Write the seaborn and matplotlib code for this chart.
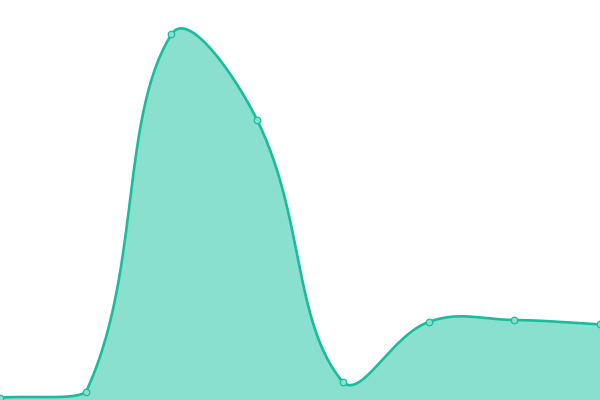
import numpy as np
import pandas as pd
import matplotlib
matplotlib.use("Agg")
import matplotlib.pyplot as plt
import seaborn as sns

# data
labels = ["P1", "P2", "P3", "P4", "P5", "P6", "P7", "P8"]
values = [0.6, 1.9, 91.4, 70.0, 4.5, 19.5, 20.0, 18.9]

LINE = "#1abc9c"
FILL = "#8ae0cf"
W, H = 600, 400
YMAX = 100.0
TENSION = 0.4

sns.set_theme(style="white")
fig = plt.figure(figsize=(6, 4), dpi=100)
ax = fig.add_axes([0, 0, 1, 1])
n = len(values)
ax.set_xlim(0, n - 1)
ax.set_ylim(0, YMAX)

# pixel space points
px = np.array([i * W / (n - 1) for i in range(n)])
py = np.array([v * H / YMAX for v in values])
pts = np.column_stack([px, py])

cps = []
for i in range(n):
    prev = pts[max(0, i - 1)]
    cur = pts[i]
    nxt = pts[min(i + 1, n - 1)]
    d01 = np.hypot(*(cur - prev))
    d12 = np.hypot(*(nxt - cur))
    s01 = d01 / (d01 + d12) if (d01 + d12) > 0 else 0
    s12 = d12 / (d01 + d12) if (d01 + d12) > 0 else 0
    fa, fb = TENSION * s01, TENSION * s12
    cp_prev = cur - fa * (nxt - prev)
    cp_next = cur + fb * (nxt - prev)
    cp_prev = np.clip(cp_prev, [0, 0], [W, H])
    cp_next = np.clip(cp_next, [0, 0], [W, H])
    cps.append((cp_prev, cp_next))

curve = []
t = np.linspace(0, 1, 60)[:, None]
for i in range(n - 1):
    p0 = pts[i]
    c1 = cps[i][1]
    c2 = cps[i + 1][0]
    p3 = pts[i + 1]
    seg = (1 - t) ** 3 * p0 + 3 * (1 - t) ** 2 * t * c1 + 3 * (1 - t) * t ** 2 * c2 + t ** 3 * p3
    curve.append(seg if i == 0 else seg[1:])
curve = np.vstack(curve)
cx = curve[:, 0] * (n - 1) / W
cy = curve[:, 1] * YMAX / H

ax.fill_between(cx, 0, cy, color=FILL, linewidth=0, zorder=1)
df_curve = pd.DataFrame({"x": cx, "y": cy})
sns.lineplot(data=df_curve, x="x", y="y", ax=ax, color=LINE, linewidth=1.9,
             sort=False, estimator=None, zorder=2)
df_pts = pd.DataFrame({"x": np.arange(n), "y": values, "label": labels})
sns.scatterplot(data=df_pts, x="x", y="y", ax=ax, s=22, color=FILL,
                edgecolor=LINE, linewidth=0.9, zorder=3)

ax.set_axis_off()
fig.savefig("out.png", dpi=100, facecolor="white")
